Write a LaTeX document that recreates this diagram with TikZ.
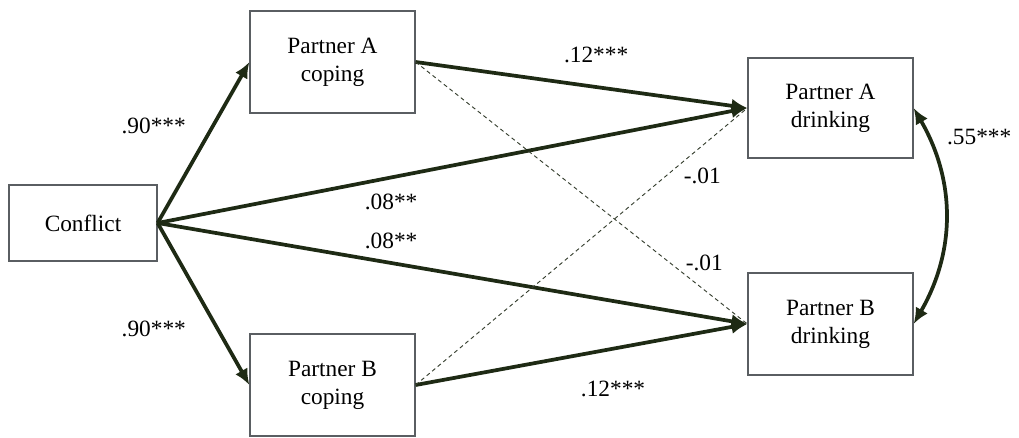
\documentclass[tikz,border=0pt]{standalone}
\usepackage{fontspec}
\setmainfont{Liberation Serif}
\usepackage{tikz}
\usetikzlibrary{shapes,arrows,arrows.meta}
\usepackage{color}
\definecolor{pathgreen}{HTML}{1E2A14}
\definecolor{boxgray}{HTML}{5A5E62}

\begin{document}
\begin{tikzpicture}[x=0.75pt,y=-0.75pt]
    % Define styles
    \tikzstyle{varbox} = [rectangle, draw=boxgray, line width=0.9pt, fill=white, text centered, align=center, minimum width=123.75pt, minimum height=76.5pt, font=\fontsize{17.5}{21}\selectfont]
    \tikzstyle{effectline} = [line width=2.8pt, draw=pathgreen, -{Latex[length=12pt,width=10.5pt]}]
    \tikzstyle{weakline} = [line width=0.7pt, draw=pathgreen!75!gray, dash pattern=on 3pt off 2.4pt]
    \tikzstyle{coeflabel} = [inner sep=0pt, text=black, font=\fontsize{17.5}{21}\selectfont]

    \useasboundingbox (0,0) rectangle (1019,438);

    % Variables
    \node [varbox, minimum width=111pt, minimum height=57pt] (conflict) at (83,223) {Conflict};
    \node [varbox] (copingA) at (332.5,62) {Partner A\\coping};
    \node [varbox] (copingB) at (332.5,385) {Partner B\\coping};
    \node [varbox, minimum height=75pt] (drinkA) at (830.5,108) {Partner A\\drinking};
    \node [varbox, minimum height=76.5pt] (drinkB) at (830.5,324) {Partner B\\drinking};

    % Paths
    \draw [effectline] (conflict.east) -- node[coeflabel, pos=0.6, xshift=-44.2pt] {.90***} (copingA.west);
    \draw [effectline] (conflict.east) -- node[coeflabel, pos=0.654, xshift=-47.9pt] {.90***} (copingB.west);
    \draw [effectline] (conflict.east) -- node[coeflabel, pos=0.396, yshift=-18.4pt] {.08**} (drinkA.west);
    \draw [effectline] (conflict.east) -- node[coeflabel, pos=0.396, yshift=16.8pt] {.08**} (drinkB.west);
    \draw [effectline] (copingA.east) -- node[coeflabel, pos=0.544, yshift=23.9pt] {.12***} (drinkA.west);
    \draw [effectline] (copingB.east) -- node[coeflabel, pos=0.595, yshift=-30pt] {.12***} (drinkB.west);
    \draw [weakline] (copingB.east) -- node[coeflabel, pos=0.864, yshift=-23pt] {-.01} (drinkA.west);
    \draw [weakline] (copingA.east) -- node[coeflabel, pos=0.87, yshift=20.3pt] {-.01} (drinkB.west);

    % Residual correlation
    \draw [effectline, {Latex[length=12pt,width=10.5pt]}-{Latex[length=12pt,width=10.5pt]}] (drinkA.east) to[bend left=30] node[coeflabel, pos=0.5, xshift=25.5pt, yshift=58.9pt] {.55***} (drinkB.east);
\end{tikzpicture}
\end{document}
